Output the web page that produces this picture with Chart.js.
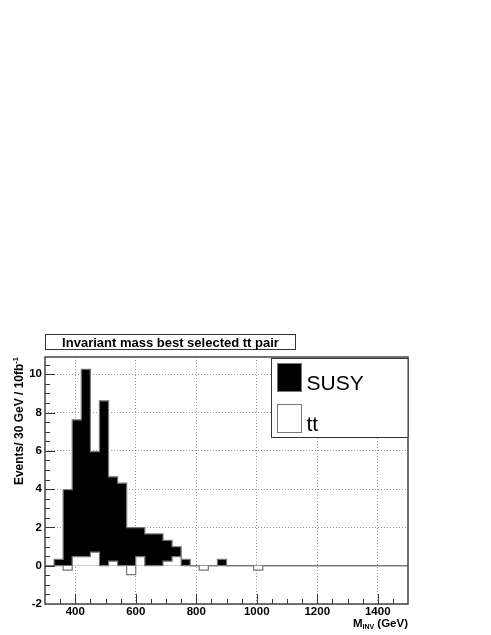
<!DOCTYPE html>
<html>
<head>
<meta charset="utf-8">
<script src="https://cdn.jsdelivr.net/npm/chart.js@4.4.0/dist/chart.umd.min.js"></script>
<style>
html, body { margin: 0; padding: 0; background: #fff; }
canvas { display: block; }
</style>
</head>
<body>
<canvas id="massChart" width="491" height="635"></canvas>
<script>
// histogram bins: 30 GeV wide, 300 -> 1500 GeV
const binStart = 300;
const binWidth = 30;
const susyEvents = [
    0, 0.33, 3.97, 7.62, 10.26, 5.96, 8.61, 4.64, 4.31, 1.99,
    1.99, 1.66, 1.66, 1.32, 0.99, 0.33, 0, 0, 0, 0.33,
    0, 0, 0, 0, 0, 0, 0, 0, 0, 0,
    0, 0, 0, 0, 0, 0, 0, 0, 0, 0
];
const ttEvents = [
    0, 0, -0.235, 0.47, 0.47, 0.705, 0, 0.235, 0, -0.47,
    0.47, 0, 0, 0.235, 0.47, 0, 0, -0.235, 0, 0,
    0, 0, 0, -0.235, 0, 0, 0, 0, 0, 0,
    0, 0, 0, 0, 0, 0, 0, 0, 0, 0
];
const xTickValues = [400, 600, 800, 1000, 1200, 1400];
const yTickValues = [-2, 0, 2, 4, 6, 8, 10];
const seriesNames = ['SUSY', 'tt'];
const chartTitle = 'Invariant mass best selected tt pair';

const FONT = 'Liberation Sans, Arial, Helvetica, sans-serif';

// histogram -> step points (left edge of each bin + closing edge)
function toSteps(values) {
    const pts = values.map((v, i) => ({ x: binStart + i * binWidth, y: v }));
    pts.push({ x: binStart + values.length * binWidth, y: values[values.length - 1] });
    return pts;
}

// ROOT style frame, inner ticks, title box, axis titles, legend
const rootStyle = {
    id: 'rootStyle',
    beforeDraw(chart) {
        const ctx = chart.ctx;
        ctx.save();
        ctx.fillStyle = '#fff';
        ctx.fillRect(0, 0, chart.width, chart.height);
        ctx.restore();
    },
    afterDraw(chart) {
        const ctx = chart.ctx;
        const a = chart.chartArea;
        const xs = chart.scales.x;
        const ys = chart.scales.y;
        ctx.save();

        // inner ticks
        ctx.strokeStyle = '#333';
        ctx.lineWidth = 1;
        ctx.beginPath();
        for (let v = 350; v < 1500; v += 50) {
            const px = Math.round(xs.getPixelForValue(v)) + 0.5;
            const len = (v % 200 === 0) ? 10 : 5;
            ctx.moveTo(px, a.bottom);
            ctx.lineTo(px, a.bottom - len);
        }
        for (let v = -1.5; v < 11; v += 0.5) {
            const py = Math.round(ys.getPixelForValue(v)) + 0.5;
            if (py < a.top) continue;
            const len = (v % 2 === 0) ? 10 : 5;
            ctx.moveTo(a.left, py);
            ctx.lineTo(a.left + len, py);
        }
        ctx.stroke();

        // frame
        ctx.strokeStyle = '#444';
        ctx.lineWidth = 1.5;
        ctx.strokeRect(a.left, a.top, a.right - a.left, a.bottom - a.top);

        // title box
        ctx.fillStyle = '#fff';
        ctx.fillRect(45.5, 334.5, 250, 15);
        ctx.strokeStyle = '#333';
        ctx.lineWidth = 1;
        ctx.strokeRect(45.5, 334.5, 250, 15);
        ctx.fillStyle = '#000';
        ctx.font = 'bold 13px ' + FONT;
        ctx.textAlign = 'center';
        ctx.textBaseline = 'alphabetic';
        ctx.fillText(chartTitle, 170.5, 346.5);

        // x title with subscript
        ctx.textAlign = 'left';
        const xMain = ' (GeV)';
        ctx.font = 'bold 11.5px ' + FONT;
        const wM = ctx.measureText('M').width;
        const wMain = ctx.measureText(xMain).width;
        ctx.font = 'bold 7px ' + FONT;
        const wSub = ctx.measureText('INV').width;
        let x0 = 408 - (wM + wSub + wMain);
        ctx.font = 'bold 11.5px ' + FONT;
        ctx.fillText('M', x0, 627);
        ctx.font = 'bold 7px ' + FONT;
        ctx.fillText('INV', x0 + wM, 629);
        ctx.font = 'bold 11.5px ' + FONT;
        ctx.fillText(xMain, x0 + wM + wSub, 627);

        // y title, rotated, with superscript
        ctx.save();
        ctx.translate(23, 357);
        ctx.rotate(-Math.PI / 2);
        const yMain = 'Events/ 30 GeV / 10fb';
        ctx.font = 'bold 7.5px ' + FONT;
        const wSup = ctx.measureText('-1').width;
        ctx.font = 'bold 12px ' + FONT;
        const wY = ctx.measureText(yMain).width;
        ctx.textAlign = 'left';
        ctx.fillText(yMain, -(wY + wSup), 0);
        ctx.font = 'bold 7.5px ' + FONT;
        ctx.fillText('-1', -wSup, -5.5);
        ctx.restore();

        // legend
        ctx.fillStyle = '#fff';
        ctx.fillRect(271.5, 358.5, 136.5, 79);
        ctx.strokeStyle = '#333';
        ctx.lineWidth = 1;
        ctx.strokeRect(271.5, 358.5, 136.5, 79);
        const ds = chart.data.datasets;
        const rows = [
            { d: ds[1], y: 363.5 },
            { d: ds[0], y: 404.5 }
        ];
        rows.forEach(r => {
            ctx.fillStyle = r.d.backgroundColor;
            ctx.fillRect(277.5, r.y, 24, 28);
            ctx.strokeStyle = '#777';
            ctx.strokeRect(277.5, r.y, 24, 28);
            ctx.fillStyle = '#000';
            ctx.font = '21px ' + FONT;
            ctx.textAlign = 'left';
            ctx.fillText(r.d.label, 306.5, r.y + 26.5);
        });

        ctx.restore();
    }
};

const chart = new Chart(document.getElementById('massChart'), {
    type: 'line',
    data: {
        datasets: [
            {
                label: seriesNames[1],
                data: toSteps(ttEvents),
                stepped: true,
                fill: 'origin',
                backgroundColor: '#ffffff',
                borderColor: '#777777',
                borderWidth: 1.2,
                pointRadius: 0,
                order: 1
            },
            {
                label: seriesNames[0],
                data: toSteps(susyEvents),
                stepped: true,
                fill: 'origin',
                backgroundColor: '#000000',
                borderColor: '#777777',
                borderWidth: 1.2,
                pointRadius: 0,
                order: 2
            }
        ]
    },
    options: {
        responsive: false,
        animation: false,
        devicePixelRatio: 1,
        layout: { padding: { left: 0, top: 357, right: 83, bottom: 0 } },
        plugins: {
            legend: { display: false },
            title: { display: false },
            tooltip: { enabled: false }
        },
        scales: {
            x: {
                type: 'linear',
                min: binStart,
                max: binStart + susyEvents.length * binWidth,
                afterBuildTicks: s => { s.ticks = xTickValues.map(v => ({ value: v })); },
                afterFit: s => { s.height = 31; },
                grid: { color: '#999', lineWidth: 1, drawTicks: false },
                border: { display: false, dash: [1, 2] },
                ticks: {
                    padding: 1,
                    autoSkip: false,
                    maxRotation: 0,
                    color: '#000',
                    callback: v => String(v),
                    font: { family: FONT, size: 11.5, weight: 'bold' }
                }
            },
            y: {
                type: 'linear',
                min: -2,
                max: 10.9,
                afterBuildTicks: s => { s.ticks = yTickValues.map(v => ({ value: v })); },
                afterFit: s => { s.width = 45; },
                grid: { color: '#999', lineWidth: 1, drawTicks: false },
                border: { display: false, dash: [1, 2] },
                ticks: {
                    padding: 3,
                    color: '#000',
                    callback: v => String(v),
                    font: { family: FONT, size: 11.5, weight: 'bold' }
                }
            }
        }
    },
    plugins: [rootStyle]
});
</script>
</body>
</html>
